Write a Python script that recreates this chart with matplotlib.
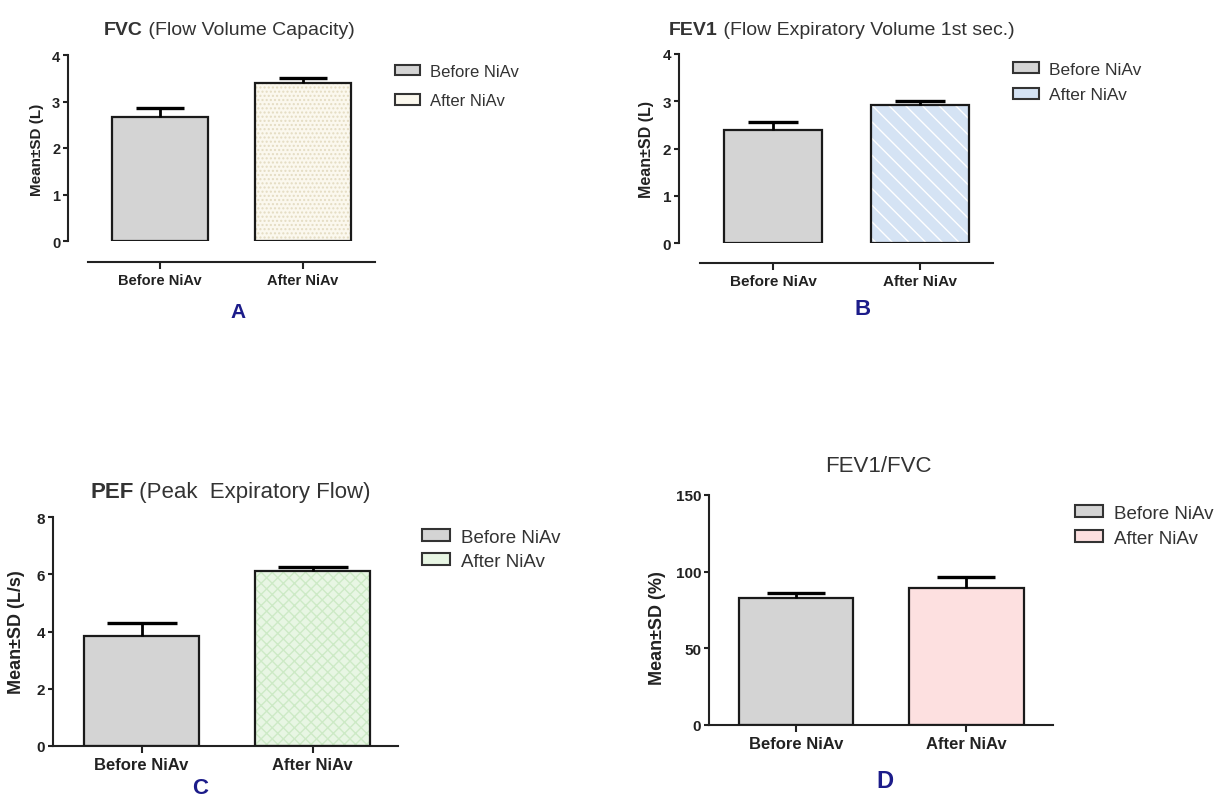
import matplotlib.pyplot as plt
from matplotlib.patches import Patch

plt.rcParams['font.family'] = ['Liberation Sans', 'DejaVu Sans']
plt.rcParams['hatch.linewidth'] = 1.0

# data
groups = ['Before NiAv', 'After NiAv']

fvc_mean = [2.67, 3.40]
fvc_sd = [0.19, 0.11]

fev1_mean = [2.39, 2.92]
fev1_sd = [0.17, 0.09]

pef_mean = [3.84, 6.11]
pef_sd = [0.46, 0.14]

ratio_mean = [82.8, 89.3]
ratio_sd = [3.3, 7.2]

W, H = 1216, 803
fig = plt.figure(figsize=(W / 100, H / 100), dpi=100)
fig.patch.set_facecolor('white')

before_face = '#d4d4d4'
navy = '#1c1c8a'


def fx(x):
    return x / W


def fy(y):
    return 1 - y / H


def panel(left, top, bottom, unit, xlim, ylim, yticks, means, sds, after,
          cap_px, drop=0, tick_fs=10.5, cat_fs=10.5):
    width = (xlim[1] - xlim[0]) * unit
    ax = fig.add_axes([fx(left), fy(bottom), width / W, (bottom - top) / H])
    x = list(range(len(groups)))
    styles = [dict(face=before_face, hatch=None, hcolor=before_face), after]
    for i in x:
        st = styles[i]
        ax.bar(i, means[i], 0.67, color=st['face'], hatch=st['hatch'],
               edgecolor=st['hcolor'], lw=0, zorder=2)
        ax.bar(i, means[i], 0.67, fill=False, edgecolor='#1a1a1a', lw=1.6, zorder=3)
    eb = ax.errorbar(x, means, yerr=[[0] * len(sds), sds], fmt='none', ecolor='black',
                     elinewidth=2.0, capsize=cap_px * 0.72, capthick=2.4, zorder=4)
    eb[1][0].set_visible(False)

    # spines first: moving a spine resets the ticks
    ax.spines[['top', 'right']].set_visible(False)
    for s in ['left', 'bottom']:
        ax.spines[s].set_linewidth(1.5)
        ax.spines[s].set_color('#222222')
    if drop:
        ax.spines['bottom'].set_position(('outward', drop * 0.72))
        ax.spines['bottom'].set_bounds(-0.5, xlim[1])

    ax.set_xlim(*xlim)
    ax.set_ylim(*ylim)
    ax.set_yticks(yticks)
    ax.set_xticks(x, groups, fontweight='bold', fontsize=cat_fs, color='#222222')
    ax.set_yticks(yticks, [str(v) for v in yticks], fontweight='bold',
                  fontsize=tick_fs, color='#222222')
    ax.tick_params(axis='y', length=3.6, width=1.5, pad=2, color='#222222')
    ax.tick_params(axis='x', length=5, width=1.5, pad=3, color='#222222')
    ax.set_facecolor('none')
    return ax


def legend(x, y, after_face, fs, spacing):
    handles = [Patch(facecolor=before_face, edgecolor='#333333', lw=1.5),
               Patch(facecolor=after_face, edgecolor='#333333', lw=1.5)]
    fig.legend(handles, groups, loc='upper left', bbox_to_anchor=(fx(x), fy(y)),
               frameon=False, fontsize=fs, handlelength=1.5, handleheight=0.6,
               handletextpad=0.6, labelspacing=spacing, borderpad=0,
               borderaxespad=0, labelcolor='#333333')


def title(x, y, bold, rest, fs):
    t = fig.text(fx(x), fy(y), bold, fontsize=fs, fontweight='bold',
                 va='baseline', color='#333333')
    fig.add_artist(plt.Annotation(rest, xy=(1, 0), xycoords=t, va='bottom',
                                  fontsize=fs, color='#333333'))


# A: FVC
after_a = dict(face='#fbf8ee', hatch='....', hcolor='#e4dcc2')
panel(68, 56, 242, 143, (-0.643, 1.503), (0, 4), [0, 1, 2, 3, 4],
      fvc_mean, fvc_sd, after_a, cap_px=24, drop=21)
legend(395, 65, after_a['face'], 12, 0.85)
title(104, 35, 'FVC', ' (Flow Volume Capacity)', 14)
fig.text(fx(37), fy(150), 'Mean±SD (L)', rotation=90, ha='center', va='center',
         fontsize=11, fontweight='bold', color='#222222')
fig.text(fx(238), fy(313), 'A', ha='center', va='center', fontsize=15,
         fontweight='bold', color=navy)

# B: FEV1
after_b = dict(face='#d5e3f4', hatch='\\\\', hcolor='white')
panel(679, 55, 244, 147, (-0.64, 1.497), (0, 4), [0, 1, 2, 3, 4],
      fev1_mean, fev1_sd, after_b, cap_px=25, drop=20, tick_fs=11, cat_fs=11)
legend(1013, 63, after_b['face'], 12.5, 0.59)
title(669, 35, 'FEV1', ' (Flow Expiratory Volume 1st sec.)', 14)
fig.text(fx(647), fy(150), 'Mean±SD (L)', rotation=90, ha='center', va='center',
         fontsize=11.5, fontweight='bold', color='#222222')
fig.text(fx(863), fy(310), 'B', ha='center', va='center', fontsize=16,
         fontweight='bold', color=navy)

# C: PEF
after_c = dict(face='#e8f6e4', hatch='xxx', hcolor='#cdeac6')
panel(53, 518, 747, 171, (-0.518, 1.5), (0, 8), [0, 2, 4, 6, 8],
      pef_mean, pef_sd, after_c, cap_px=35, tick_fs=11, cat_fs=12)
legend(422, 530, after_c['face'], 13.5, 0.36)
title(90, 498, 'PEF', ' (Peak  Expiratory Flow)', 16)
fig.text(fx(17), fy(632), 'Mean±SD (L/s)', rotation=90, ha='center', va='center',
         fontsize=13, fontweight='bold', color='#222222')
fig.text(fx(200), fy(789), 'C', ha='center', va='center', fontsize=16,
         fontweight='bold', color=navy)

# D: FEV1/FVC
after_d = dict(face='#fde0e0', hatch=None, hcolor='#fde0e0')
panel(709, 496, 726, 170.5, (-0.51, 1.507), (0, 150), [0, 50, 100, 150],
      ratio_mean, ratio_sd, after_d, cap_px=29, tick_fs=11, cat_fs=12)
legend(1075, 506, after_d['face'], 13.5, 0.41)
fig.text(fx(878), fy(472), 'FEV1/FVC', ha='center', va='baseline', fontsize=16,
         color='#333333')
fig.text(fx(657), fy(628), 'Mean±SD (%)', rotation=90, ha='center', va='center',
         fontsize=13, fontweight='bold', color='#222222')
fig.text(fx(885), fy(782), 'D', ha='center', va='center', fontsize=17,
         fontweight='bold', color=navy)

fig.savefig('out.png', dpi=100)
